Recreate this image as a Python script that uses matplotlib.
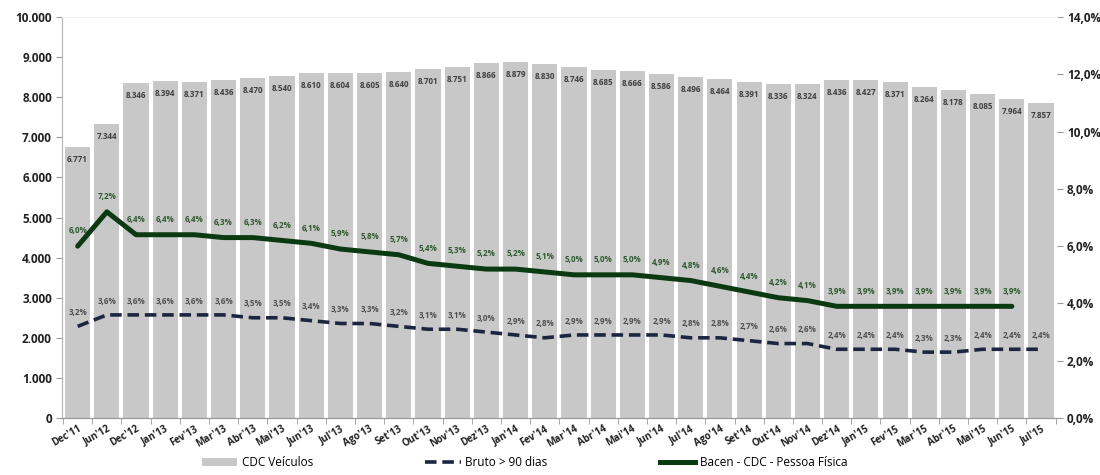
import matplotlib
matplotlib.use("Agg")
import matplotlib.pyplot as plt
from matplotlib.ticker import FuncFormatter, MultipleLocator
from matplotlib.patches import Patch
from matplotlib.lines import Line2D

categories = ["Dec'11", "Jun'12", "Dec'12", "Jan'13", "Fev'13", "Mar'13", "Abr'13", "Mai'13",
              "Jun'13", "Jul'13", "Ago'13", "Set'13", "Out'13", "Nov'13", "Dez'13", "Jan'14",
              "Fev'14", "Mar'14", "Abr'14", "Mai'14", "Jun'14", "Jul'14", "Ago'14", "Set'14",
              "Out'14", "Nov'14", "Dez'14", "Jan'15", "Fev'15", "Mar'15", "Abr'15", "Mai'15",
              "Jun'15", "Jul'15"]

cdc_veiculos = [6771, 7344, 8346, 8394, 8371, 8436, 8470, 8540, 8610, 8604, 8605, 8640, 8701,
                8751, 8866, 8879, 8830, 8746, 8685, 8666, 8586, 8496, 8464, 8391, 8336, 8324,
                8436, 8427, 8371, 8264, 8178, 8085, 7964, 7857]

bruto_90 = [3.2, 3.6, 3.6, 3.6, 3.6, 3.6, 3.5, 3.5, 3.4, 3.3, 3.3, 3.2, 3.1, 3.1, 3.0, 2.9,
            2.8, 2.9, 2.9, 2.9, 2.9, 2.8, 2.8, 2.7, 2.6, 2.6, 2.4, 2.4, 2.4, 2.3, 2.3, 2.4,
            2.4, 2.4]

bacen_pf = [6.0, 7.2, 6.4, 6.4, 6.4, 6.3, 6.3, 6.2, 6.1, 5.9, 5.8, 5.7, 5.4, 5.3, 5.2, 5.2,
            5.1, 5.0, 5.0, 5.0, 4.9, 4.8, 4.6, 4.4, 4.2, 4.1, 3.9, 3.9, 3.9, 3.9, 3.9, 3.9, 3.9]

plt.rcParams['font.family'] = ['Open Sans', 'DejaVu Sans']

fig = plt.figure(figsize=(11, 4.75), dpi=100)
ax = fig.add_axes([0.056, 0.12, 0.905, 0.844])
ax2 = ax.twinx()

x = list(range(len(categories)))
bar_color = "#c8c8c8"
green = "#0b3a12"
navy = "#1c2640"

ax.bar(x, cdc_veiculos, width=0.86, color=bar_color, zorder=1)
for xi, v in zip(x, cdc_veiculos):
    ax.annotate(f"{v:,}".replace(",", "."), (xi, v), xytext=(0, -9), textcoords="offset points",
                ha="center", va="center", fontsize=5.8, fontweight="bold", color="#404040")

ax.set_ylim(0, 10000)
ax.set_xlim(-0.55, len(categories) - 0.45)
ax.yaxis.set_major_locator(MultipleLocator(1000))
ax.yaxis.set_major_formatter(FuncFormatter(lambda v, p: f"{int(v):,}".replace(",", ".")))

ax2.set_ylim(0, 14)
ax2.yaxis.set_major_locator(MultipleLocator(2))
ax2.yaxis.set_major_formatter(FuncFormatter(lambda v, p: f"{v:.1f}%".replace(".", ",")))

ax2.plot(range(len(bruto_90)), bruto_90, color=navy, lw=2.6, ls=(0, (3.2, 1.6)), zorder=3)
ax2.plot(range(len(bacen_pf)), bacen_pf, color=green, lw=3.6, zorder=4, solid_capstyle="round")

for xi, v in enumerate(bruto_90):
    ax2.annotate(f"{v:.1f}%".replace(".", ","), (xi, v), xytext=(0, 10), textcoords="offset points",
                 ha="center", va="center", fontsize=5.8, fontweight="bold", color="#505050")
for xi, v in enumerate(bacen_pf):
    ax2.annotate(f"{v:.1f}%".replace(".", ","), (xi, v), xytext=(0, 11), textcoords="offset points",
                 ha="center", va="center", fontsize=5.8, fontweight="bold", color="#2f5a2f")

ax.set_xticks(x)
ax.set_xticklabels(categories, rotation=30, ha="right", rotation_mode="anchor",
                   fontsize=7, fontweight="bold", color="#222222")
ax.set_xticks([i + 0.5 for i in range(-1, len(categories))], minor=True)
ax.tick_params(axis="x", which="major", length=0, pad=4)
ax.tick_params(axis="x", which="minor", length=4, color="#999999")

ax.tick_params(axis="y", labelsize=8.5, length=4, color="#999999", labelcolor="#222222", pad=3)
for lab in ax.get_yticklabels():
    lab.set_fontweight("bold")
ax2.tick_params(axis="y", labelsize=8.5, length=4, color="#999999", labelcolor="#222222", pad=3)
for lab in ax2.get_yticklabels():
    lab.set_fontweight("bold")

for a in (ax, ax2):
    a.spines["top"].set_color("#f0f0f0")
    a.spines["right"].set_visible(False)
    a.spines["left"].set_color("#bbbbbb")
    a.spines["bottom"].set_color("#999999")

handles = [Patch(facecolor=bar_color, edgecolor="none"),
           Line2D([], [], color=navy, lw=2.6, ls=(0, (3.2, 1.6))),
           Line2D([], [], color=green, lw=3.6)]
labels = ["CDC Veículos", "Bruto > 90 dias", "Bacen - CDC - Pessoa Física"]
fig.legend(handles, labels, loc="lower center", bbox_to_anchor=(0.477, -0.01), ncol=3,
           frameon=False, fontsize=8.5, handlelength=3.0, handleheight=0.7,
           columnspacing=9.5, handletextpad=0.4)

fig.savefig("out.png", dpi=100)
